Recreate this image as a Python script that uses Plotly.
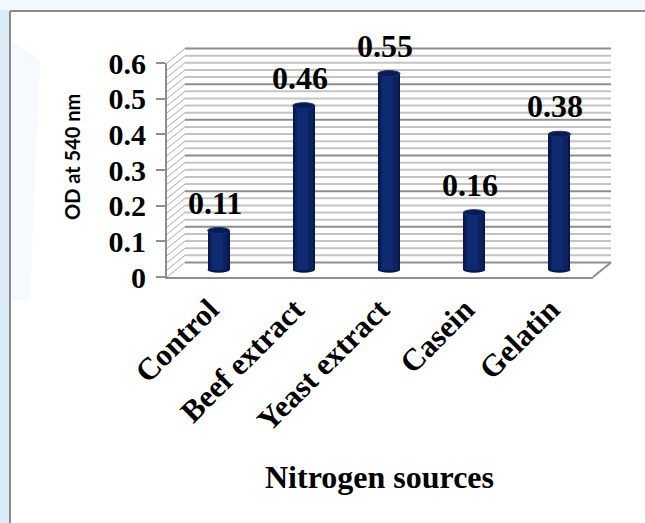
import plotly.graph_objects as go
import numpy as np

# ---------------- data ----------------
categories = ["Control", "Beef extract", "Yeast extract", "Casein", "Gelatin"]
od_values = [0.11, 0.46, 0.55, 0.16, 0.38]
value_labels = ["0.11", "0.46", "0.55", "0.16", "0.38"]
y_ticks = [0, 0.1, 0.2, 0.3, 0.4, 0.5, 0.6]
y_tick_text = ["0", "0.1", "0.2", "0.3", "0.4", "0.5", "0.6"]
y_title = "OD at 540 nm"
x_title = "Nitrogen sources"

# ---------------- geometry (pixels) ----------------
W, H = 645, 523
FX0, FX1 = 167, 593      # front floor edge
FY0, FY1 = 277, 63       # front y for 0 and 0.6
DX, DY = 18, -14.5       # depth offset to back wall
YMAX = 0.6
YMIN2 = -0.03            # small room below the floor for the cylinder bases


def px(x):
    return x / W


def py(y):
    return 1 - y / H


def fy(v):
    return FY0 - (FY0 - FY1) * v / YMAX


def my(v):
    return fy(v) + DY / 2


fig = go.Figure()

n = len(categories)
xs = list(range(n))

# invisible trace to activate the front axes
fig.add_trace(go.Scatter(x=xs, y=od_values, mode="none", xaxis="x", yaxis="y",
                         hoverinfo="skip", showlegend=False))

# ---------------- bars (mid depth axes) ----------------
bw = 0.26
fig.add_trace(go.Bar(x=xs, y=od_values, width=bw, marker=dict(color="#08184a", line=dict(width=0)),
                     xaxis="x2", yaxis="y2", hoverinfo="skip", showlegend=False))
fig.add_trace(go.Bar(x=xs, y=od_values, width=bw * 0.8, marker=dict(color="#0b2160", line=dict(width=0)),
                     xaxis="x2", yaxis="y2", hoverinfo="skip", showlegend=False))
fig.add_trace(go.Bar(x=xs, y=od_values, width=bw * 0.5, offset=-bw * 0.32,
                     marker=dict(color="#0e2a70", line=dict(width=0)),
                     xaxis="x2", yaxis="y2", hoverinfo="skip", showlegend=False))

shapes = []

# left background strip and frame
shapes.append(dict(type="rect", xref="paper", yref="paper", x0=0, x1=px(9), y0=0, y1=1,
                   fillcolor="#dcecf7", line=dict(width=0), layer="below"))
shapes.append(dict(type="rect", xref="paper", yref="paper", x0=0, x1=1, y0=py(10), y1=1,
                   fillcolor="#f3f8fc", line=dict(width=0), layer="below"))
shapes.append(dict(type="path", xref="paper", yref="paper",
                   path=f"M {px(10)},{py(40)} L {px(40)},{py(60)} L {px(30)},{py(300)} L {px(10)},{py(300)} Z",
                   fillcolor="#eef3fb", opacity=0.5, line=dict(width=0), layer="below"))
shapes.append(dict(type="line", xref="paper", yref="paper", x0=px(10), x1=px(10), y0=py(11), y1=0,
                   line=dict(color="#8a8a8a", width=2), layer="below"))
shapes.append(dict(type="line", xref="paper", yref="paper", x0=px(10), x1=1, y0=py(11), y1=py(11),
                   line=dict(color="#8a8a8a", width=2), layer="below"))

# back wall gridlines and side wall hatching
grid_vals = np.round(np.arange(0, YMAX + 1e-9, 0.02), 2)
for v in grid_vals:
    major = abs(v * 10 - round(v * 10)) < 1e-6
    yb = fy(v) + DY
    shapes.append(dict(type="line", xref="paper", yref="paper",
                       x0=px(FX0 + DX), x1=px(FX1 + DX), y0=py(yb), y1=py(yb),
                       line=dict(color="#8e8e8e" if major else "#c4c4c4", width=2), layer="below"))
    shapes.append(dict(type="line", xref="paper", yref="paper",
                       x0=px(FX0), x1=px(FX0 + DX), y0=py(fy(v)), y1=py(yb),
                       line=dict(color="#a8a8a8", width=1), layer="below"))
# floor right edge
shapes.append(dict(type="line", xref="paper", yref="paper",
                   x0=px(FX1), x1=px(FX1 + DX), y0=py(FY0), y1=py(FY0 + DY),
                   line=dict(color="#8e8e8e", width=2), layer="below"))

# cylinder bottom and top ellipses (mid-depth data coords)
eh = 3.0 * YMAX / (FY0 - FY1)
for i, v in enumerate(od_values):
    shapes.append(dict(type="circle", xref="x2", yref="y2", x0=i - bw / 2, x1=i + bw / 2,
                       y0=-eh, y1=eh, fillcolor="#08184a", line=dict(width=0), layer="below"))
    shapes.append(dict(type="circle", xref="x2", yref="y2", x0=i - bw / 2, x1=i + bw / 2,
                       y0=v - eh, y1=v + eh, fillcolor="#0a1b52",
                       line=dict(color="#15307a", width=1), layer="above"))

annotations = []
for i, (v, t) in enumerate(zip(od_values, value_labels)):
    annotations.append(dict(x=i, y=v, xref="x2", yref="y2", text=t, showarrow=False,
                            yanchor="bottom", xanchor="center", xshift=-4, yshift=8,
                            font=dict(family="Liberation Serif", size=32, color="black", weight="bold")))
annotations.append(dict(x=px(72), y=py(157), xref="paper", yref="paper", text=y_title, showarrow=False,
                        textangle=-90, xanchor="center", yanchor="middle",
                        font=dict(family="Lato", size=20, color="black", weight="bold")))
annotations.append(dict(x=px(379), y=py(477), xref="paper", yref="paper", text=x_title, showarrow=False,
                        xanchor="center", yanchor="middle",
                        font=dict(family="Liberation Serif", size=32, color="black", weight="bold")))

ytick_font = dict(family="Liberation Serif", size=30, color="black", weight="bold")
xtick_font = dict(family="Liberation Serif", size=31, color="black", weight="bold")

fig.update_layout(
    width=W, height=H,
    margin=dict(l=0, r=0, t=0, b=0, pad=0, autoexpand=False),
    paper_bgcolor="white", plot_bgcolor="rgba(0,0,0,0)",
    barmode="overlay", bargap=0,
    showlegend=False,
    shapes=shapes, annotations=annotations,
    xaxis=dict(domain=[px(FX0), px(FX1)], range=[-0.5, n - 0.5], tickmode="array",
               tickvals=xs, ticktext=categories, tickangle=-45, tickfont=xtick_font,
               showgrid=False, zeroline=False, showline=True, linecolor="#8e8e8e", linewidth=2,
               ticks="", anchor="y", fixedrange=True, automargin=False),
    yaxis=dict(domain=[py(FY0), py(FY1)], range=[0, YMAX], tickmode="array",
               tickvals=y_ticks, ticktext=y_tick_text, tickfont=ytick_font,
               showgrid=False, zeroline=False, showline=True, linecolor="#8e8e8e", linewidth=2,
               ticks="outside", ticklen=9, tickcolor="#8e8e8e", tickwidth=2,
               ticklabelstandoff=4, anchor="x", fixedrange=True, automargin=False),
    xaxis2=dict(domain=[px(FX0 + DX / 2), px(FX1 + DX / 2)], range=[-0.5, n - 0.5],
                visible=False, anchor="y2", automargin=False, fixedrange=True),
    yaxis2=dict(domain=[py(my(YMIN2)), py(my(YMAX))], range=[YMIN2, YMAX],
                visible=False, anchor="x2", automargin=False, fixedrange=True),
)

fig.write_html("out.html")
